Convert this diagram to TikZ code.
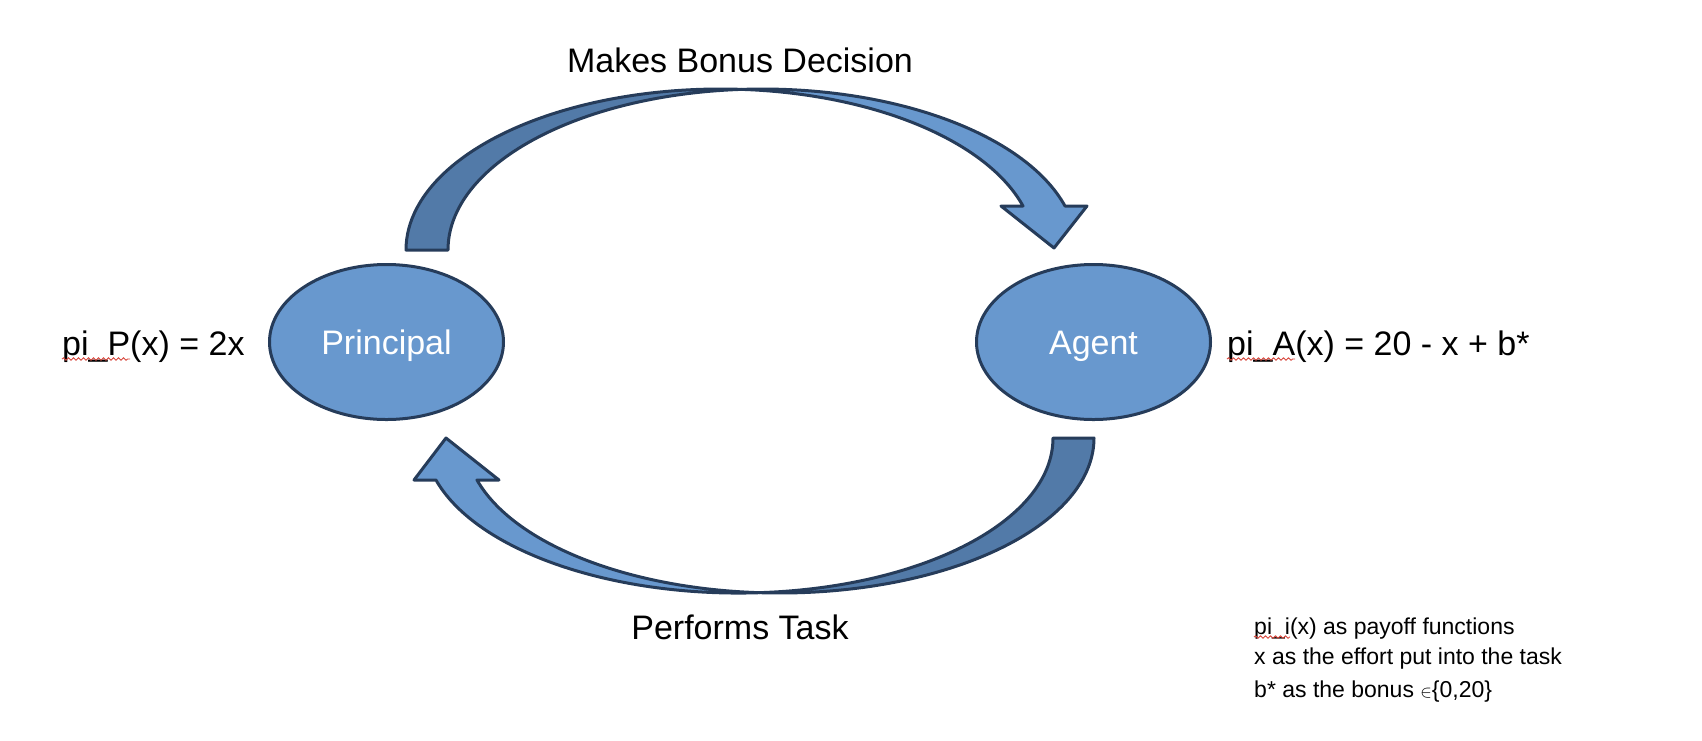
\documentclass[tikz,border=0pt]{standalone}
\usepackage{fontspec}
\setmainfont{Liberation Sans}
\usetikzlibrary{shapes.geometric,decorations.pathmorphing}
\definecolor{fillblue}{RGB}{104,152,206}
\definecolor{darkblue}{RGB}{82,122,168}
\definecolor{edgeblue}{RGB}{38,60,90}
\definecolor{squig}{RGB}{215,70,60}
\newcommand\bigtxt{\fontsize{34}{40}\selectfont}
\newcommand\smtxt{\fontsize{23}{28}\selectfont}
\begin{document}
\begin{tikzpicture}[x=1pt,y=1pt]
\tikzset{
  actor/.style={ellipse, draw=edgeblue, fill=fillblue, line width=3pt,
    minimum width=234pt, minimum height=155pt, inner sep=0pt,
    text=white, font=\bigtxt, text height=24pt, text depth=0pt},
  band/.style={draw=edgeblue, line width=3pt, line join=round},
  lbl/.style={font=\bigtxt, inner sep=0pt},
  legend/.style={font=\smtxt, inner sep=0pt, anchor=base west},
  squiggle/.style={draw=squig, line width=0.9pt, decorate,
    decoration={snake, amplitude=1.2pt, segment length=5pt}}
}
\useasboundingbox (0,0) rectangle (1702,-740);

% nodes
\node[actor] (P) at (386.5,-342) {Principal};
\node[actor] (A) at (1093.5,-342) {Agent};

% top curved arrow (Principal -> Agent)
\path[band, fill=darkblue] (406,-250)
  arc[start angle=180, end angle=86.17, x radius=314.5, y radius=161]
  arc[start angle=93.83, end angle=180, x radius=314.5, y radius=161] -- cycle;
\path[band, fill=fillblue] (741.5,-89.4)
  arc[start angle=93.83, end angle=15.86, x radius=314.5, y radius=161]
  -- (1087,-206) -- (1054,-248) -- (1001,-206) -- (1023,-206)
  arc[start angle=15.86, end angle=86.17, x radius=314.5, y radius=161] -- cycle;

% bottom curved arrow (Agent -> Principal)
\path[band, fill=darkblue] (1094,-438)
  arc[start angle=360, end angle=266.26, x radius=314.4, y radius=155]
  arc[start angle=273.74, end angle=360, x radius=314.4, y radius=155] -- cycle;
\path[band, fill=fillblue] (759.1,-592.7)
  arc[start angle=273.74, end angle=195.72, x radius=314.4, y radius=155]
  -- (414,-480) -- (446,-438) -- (499,-480) -- (477,-480)
  arc[start angle=195.72, end angle=266.26, x radius=314.4, y radius=155] -- cycle;

% labels
\node[lbl, anchor=base] (mbd) at (740,-72) {Makes Bonus Decision};
\node[lbl, anchor=base] (pt) at (740,-639) {Performs Task};
\node[lbl, anchor=base west] (piP) at (62,-355) {pi\_P(x) = 2x};
\node[lbl, anchor=base west] (piA) at (1227,-355) {pi\_A(x) = 20 - x + b*};

% legend
\node[legend] (l1) at (1254,-634) {pi\_i(x) as payoff functions};
\node[legend] (l2) at (1254,-664) {x as the effort put into the task};
\node[legend] (l3) at (1254,-697) {b* as the bonus {\fontsize{17}{20}\selectfont$\in$}\{0,20\}};

% spell-check squiggles
\draw[squiggle] ([yshift=-4pt]piP.base west) -- ++(68,0);
\draw[squiggle] ([yshift=-4pt]piA.base west) -- ++(68,0);
\draw[squiggle] ([yshift=-3pt]l1.base west) -- ++(36,0);
\end{tikzpicture}
\end{document}
